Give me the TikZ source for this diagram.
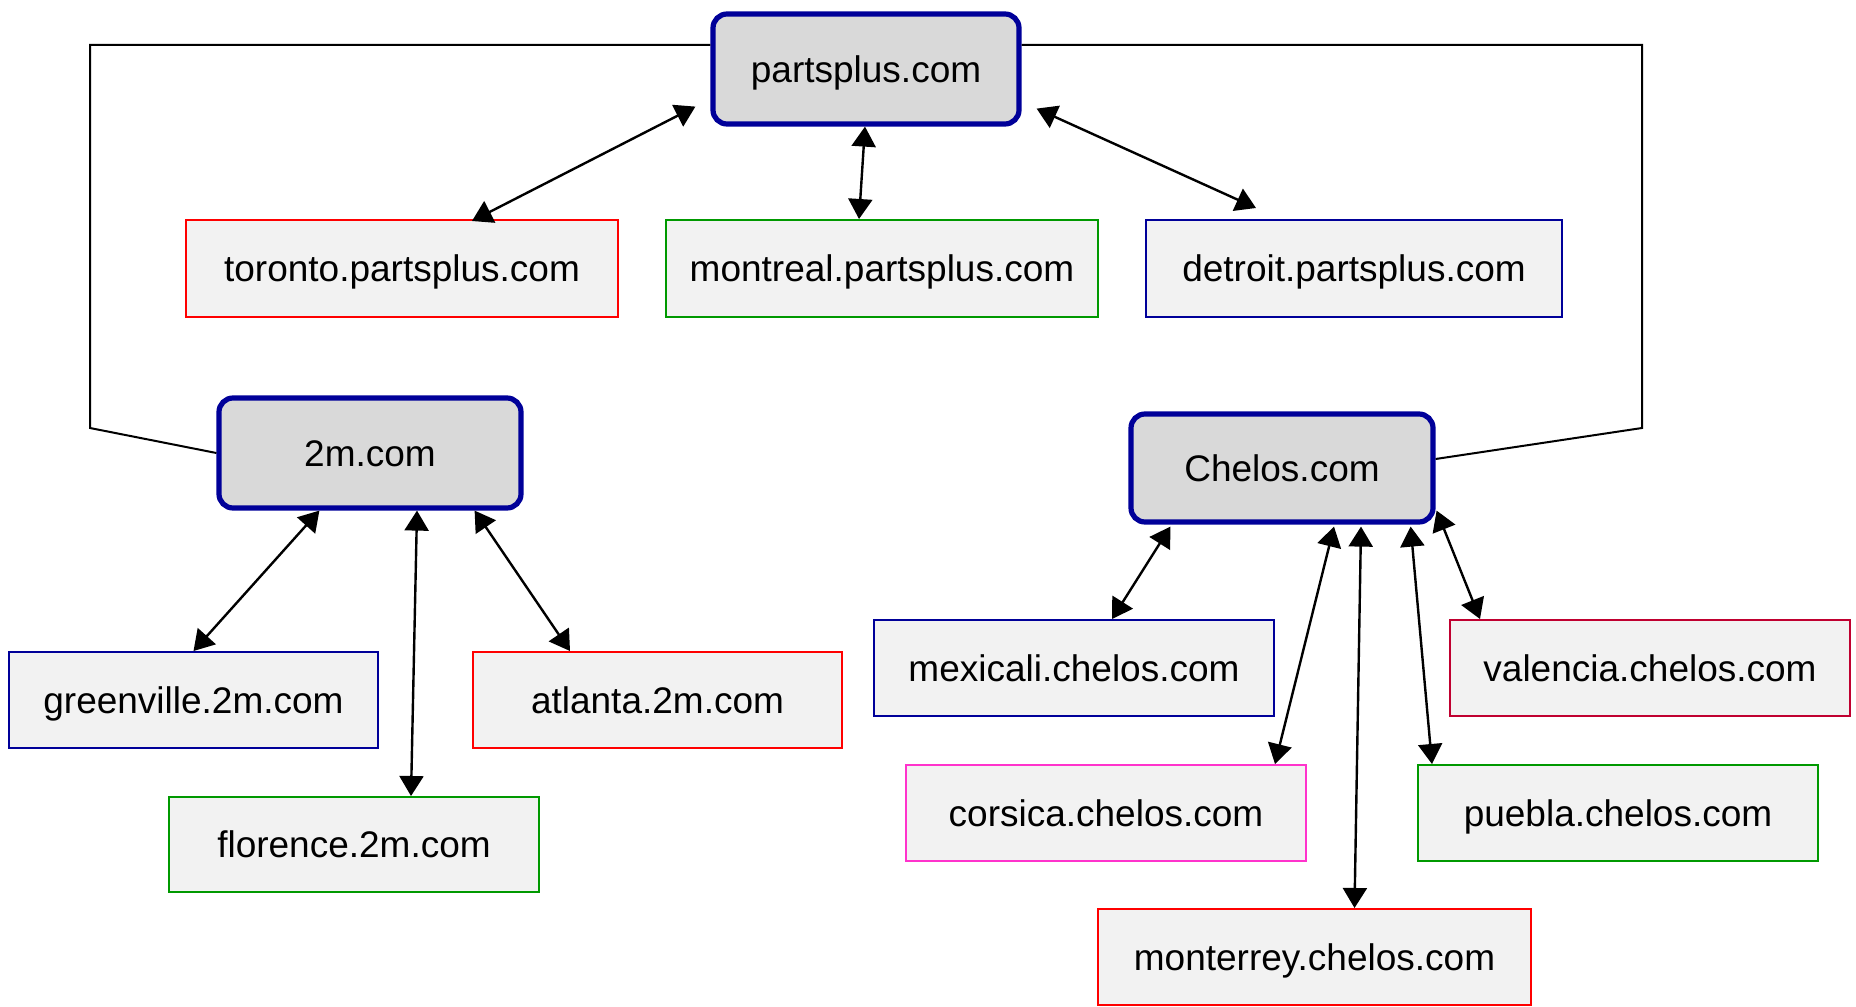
\documentclass[tikz,border=0pt]{standalone}
\usepackage{fontspec}
\setmainfont{Liberation Sans}
\usetikzlibrary{calc,arrows.meta}
\definecolor{mainblue}{RGB}{0,0,153}
\definecolor{mainfill}{RGB}{217,217,217}
\definecolor{childfill}{RGB}{242,242,242}
\definecolor{cred}{RGB}{255,0,0}
\definecolor{cgreen}{RGB}{0,153,0}
\definecolor{cblue}{RGB}{0,0,153}
\definecolor{cmag}{RGB}{255,51,204}
\definecolor{cdred}{RGB}{192,0,48}
\tikzset{
  mainbox/.style={draw=mainblue, line width=2.6pt, fill=mainfill, rounded corners=7pt, inner sep=0pt, text height=13.2pt, text depth=0pt, font=\fontsize{18.5}{22}\selectfont},
  childbox/.style={draw=#1, line width=1pt, fill=childfill, inner sep=0pt, text height=13.2pt, text depth=0pt, font=\fontsize{18.5}{22}\selectfont},
  arr/.style={line width=1.2pt, {Triangle[length=10pt,width=12pt]}-{Triangle[length=10pt,width=12pt]}},
  outl/.style={line width=1pt}
}
\begin{document}
\begin{tikzpicture}[x=0.5pt,y=-0.5pt]
\useasboundingbox (0,0) rectangle (1856,1006);
% main nodes
\node[mainbox, minimum width=153pt, minimum height=55pt] (pp) at (866,69) {partsplus.com};
\node[mainbox, minimum width=151pt, minimum height=55pt] (tm) at (370,453) {2m.com};
\node[mainbox, minimum width=151pt, minimum height=54pt] (ch) at (1282,468) {Chelos.com};
% children of partsplus
\node[childbox=cred, minimum width=216pt, minimum height=48.5pt] (to) at (402,268.5) {toronto.partsplus.com};
\node[childbox=cgreen, minimum width=216pt, minimum height=48.5pt] (mo) at (882,268.5) {montreal.partsplus.com};
\node[childbox=cblue, minimum width=208pt, minimum height=48.5pt] (de) at (1354,268.5) {detroit.partsplus.com};
% children of 2m
\node[childbox=cblue, minimum width=184.5pt, minimum height=48pt] (gr) at (193.5,700) {greenville.2m.com};
\node[childbox=cred, minimum width=184.5pt, minimum height=48pt] (at) at (657.5,700) {atlanta.2m.com};
\node[childbox=cgreen, minimum width=185pt, minimum height=47.5pt] (fl) at (354,844.5) {florence.2m.com};
% children of Chelos
\node[childbox=cblue, minimum width=200pt, minimum height=48pt] (me) at (1074,668) {mexicali.chelos.com};
\node[childbox=cdred, minimum width=200pt, minimum height=48pt] (va) at (1650,668) {valencia.chelos.com};
\node[childbox=cmag, minimum width=200pt, minimum height=48pt] (co) at (1106,813) {corsica.chelos.com};
\node[childbox=cgreen, minimum width=200pt, minimum height=48pt] (pu) at (1618,813) {puebla.chelos.com};
\node[childbox=cred, minimum width=216.5pt, minimum height=48pt] (mt) at (1314.5,957) {monterrey.chelos.com};
% outline connectors
\coordinate (lt) at (90,45);
\coordinate (lb) at (90,428);
\coordinate (rt) at (1642,45);
\coordinate (rb) at (1642,428);
\draw[outl] (pp.west |- lt) -- (lt) -- (lb) -- (tm.west);
\draw[outl] (pp.east |- rt) -- (rt) -- (rb) -- ($(ch.east)+(0,-9)$);
% arrows
\draw[arr] ($(pp.south west)+(-15,-20)$) -- ($(to.north west)+(287,2)$);
\draw[arr] ($(pp.south)+(-1,0)$) -- ($(mo.north)+(-23,0)$);
\draw[arr] ($(pp.south east)+(15,-18)$) -- ($(de.north west)+(111,-11)$);
\draw[arr] ($(tm.south west)+(103,0)$) -- (gr.north);
\draw[arr] ($(tm.south)+(47,0)$) -- ($(fl.north)+(57,0)$);
\draw[arr] ($(tm.south east)+(-49,0)$) -- ($(at.north west)+(98,0)$);
\draw[arr] ($(ch.south west)+(42,2)$) -- ($(me.north west)+(239,0)$);
\draw[arr] ($(ch.south)+(52,2)$) -- ($(co.north east)+(-32,0)$);
\draw[arr] ($(ch.south)+(79,2)$) -- ($(mt.north)+(40,0)$);
\draw[arr] ($(ch.south east)+(-25,2)$) -- ($(pu.north west)+(15,0)$);
\draw[arr] ($(ch.south east)+(1,-14)$) -- ($(va.north west)+(31,0)$);
\end{tikzpicture}
\end{document}
